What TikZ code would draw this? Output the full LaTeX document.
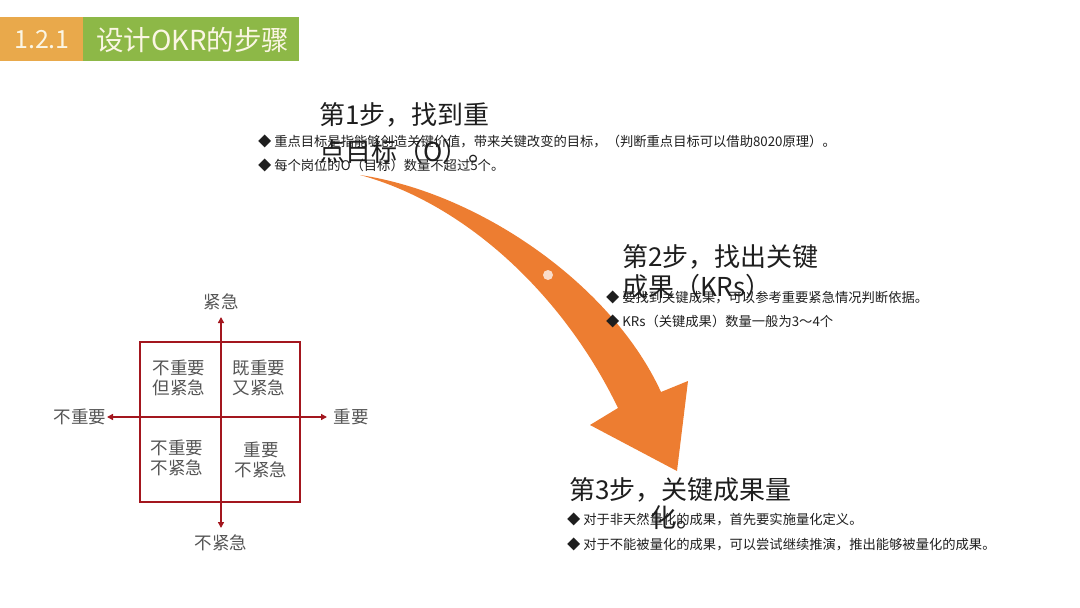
\documentclass[tikz,border=0pt]{standalone}
\usepackage{fontspec}
\newfontfamily\cjk{Noto Sans CJK SC}
\usetikzlibrary{arrows.meta}
\definecolor{hdrorange}{HTML}{E9A94B}
\definecolor{hdrgreen}{HTML}{8DB847}
\definecolor{hdrtext}{HTML}{FBF6E4}
\definecolor{arroworange}{HTML}{ED7D31}
\definecolor{dotpink}{HTML}{F9DCCB}
\definecolor{matred}{HTML}{A3161E}
\definecolor{greytext}{HTML}{555555}
\definecolor{darktext}{HTML}{1E1E1E}
\begin{document}
\begin{tikzpicture}[x=1pt,y=-1pt,
  every node/.style={inner sep=0pt,outer sep=0pt},
  hdrtxt/.style={font=\cjk\fontsize{25}{29}\selectfont,text=hdrtext},
  hdrtitle/.style={font=\cjk\fontsize{27.5}{31}\selectfont,text=hdrtext},
  steptitle/.style={font=\cjk\fontsize{26}{30}\selectfont,text=darktext,anchor=west},
  bullettxt/.style={font=\cjk\fontsize{13.3}{16}\selectfont,text=darktext,anchor=west},
  quadtxt/.style={font=\cjk\fontsize{17.5}{20}\selectfont,text=greytext,align=center},
  axislbl/.style={font=\cjk\fontsize{17.5}{20}\selectfont,text=greytext},
  axisarrow/.style={matred,line width=1.4pt,-{Triangle[length=6pt,width=6pt]}}
]
\useasboundingbox (0,0) rectangle (1080,608);

% header
\fill[hdrorange] (0,17) rectangle (83,61);
\fill[hdrgreen] (83,17) rectangle (299,61);
\node[hdrtxt] (hnum) at (42,40) {1.2.1};
\node[hdrtitle,anchor=west] (htitle) at (96,40) {设计OKR的步骤};

% curved arrow
\fill[arroworange] (360,175) .. controls (480,193) and (612,285) .. (661,392)
  -- (688,381) -- (677,471) -- (590,425) -- (618,408)
  .. controls (566,300) and (470,205) .. (360,175) -- cycle;
\fill[dotpink] (548,275) circle (5);

% step 1
\node[bullettxt] (b11) at (258,141) {◆ 重点目标是指能够创造关键价值，带来关键改变的目标，（判断重点目标可以借助8020原理）。};
\node[bullettxt] (b12) at (258,165) {◆ 每个岗位的O（目标）数量不超过5个。};
\node[steptitle] (s1a) at (319,115) {第1步，找到重};
\node[steptitle] (s1b) at (319,152) {点目标（O）。};

% step 2
\node[bullettxt] (b21) at (606,297) {◆ 要找到关键成果，可以参考重要紧急情况判断依据。};
\node[bullettxt] (b22) at (606,321) {◆ KRs（关键成果）数量一般为3～4个};
\node[steptitle] (s2a) at (622,257) {第2步，找出关键};
\node[steptitle] (s2b) at (622,287) {成果（KRs）};

% step 3
\node[bullettxt] (b31) at (567,519) {◆ 对于非天然量化的成果，首先要实施量化定义。};
\node[bullettxt] (b32) at (567,544) {◆ 对于不能被量化的成果，可以尝试继续推演，推出能够被量化的成果。};
\node[steptitle] (s3a) at (569,490) {第3步，关键成果量};
\node[steptitle,anchor=center] (s3b) at (676,518) {化。};

% matrix
\draw[matred,line width=1.4pt] (140,342) rectangle (300,502);
\coordinate (ctr) at (221,417);
\coordinate (up) at (221,317);
\coordinate (down) at (221,528);
\coordinate (left) at (107,417);
\coordinate (right) at (327,417);
\draw[axisarrow] (ctr) -- (up);
\draw[axisarrow] (ctr) -- (down);
\draw[axisarrow] (ctr) -- (left);
\draw[axisarrow] (ctr) -- (right);
\node[axislbl] (lup) at (221,302) {紧急};
\node[axislbl] (ldown) at (221,543) {不紧急};
\node[axislbl] (lleft) at (80,417) {不重要};
\node[axislbl] (lright) at (351,417) {重要};
\node[quadtxt] (q1) at (179,378) {不重要\\但紧急};
\node[quadtxt] (q2) at (259,378) {既重要\\又紧急};
\node[quadtxt] (q3) at (177,458) {不重要\\不紧急};
\node[quadtxt] (q4) at (261,460) {重要\\不紧急};
\end{tikzpicture}
\end{document}
